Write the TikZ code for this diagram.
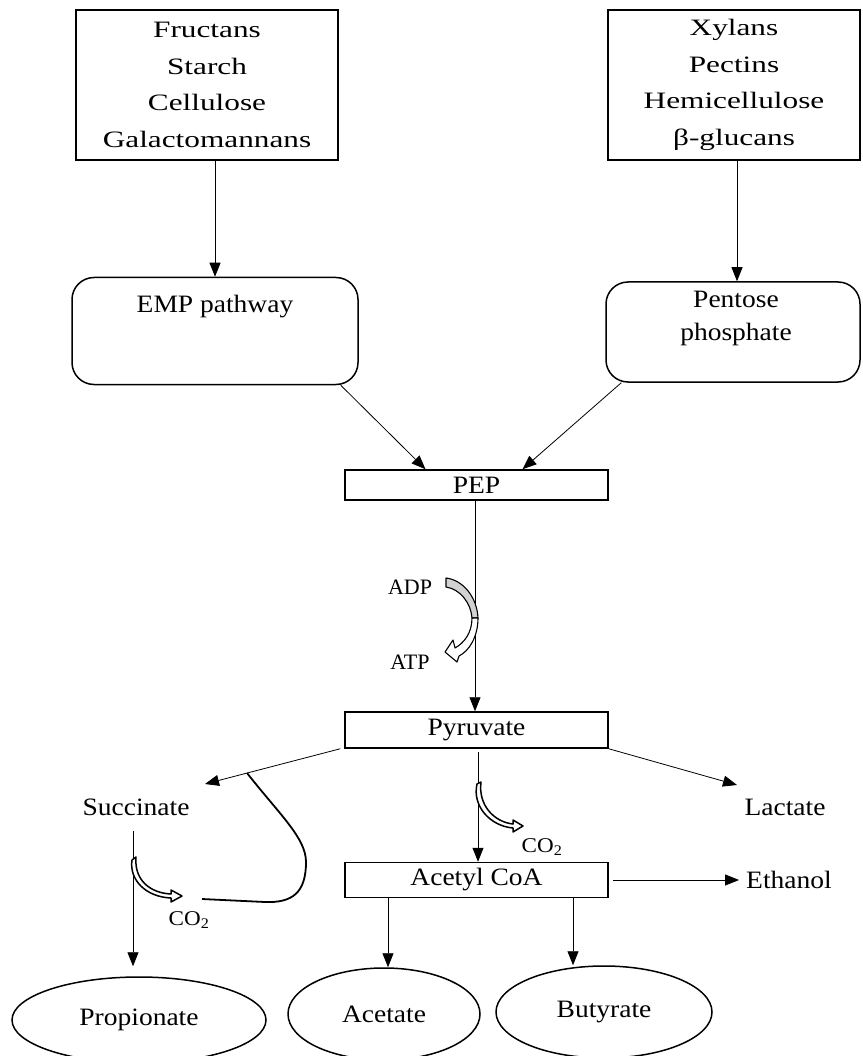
\documentclass[tikz,border=0pt]{standalone}
\usepackage{fontspec}
\setmainfont{Liberation Serif}
\newfontfamily\widef[FakeStretch=1.33]{Liberation Serif}
\newfontfamily\mainf[FakeStretch=1.10]{Liberation Serif}
\usetikzlibrary{arrows.meta,shapes.geometric}
\begin{document}
\begin{tikzpicture}[x=1pt,y=-1pt,
  every node/.style={font=\mainf\fontsize{25}{31}\selectfont},
  box/.style={draw, line width=1.5pt, inner sep=0pt},
  topbox/.style={box, align=center, font=\widef\fontsize{23.5}{36.5}\selectfont},
  rbox/.style={box, rounded corners=22pt, align=center},
  oval/.style={draw, line width=1.5pt, ellipse, inner sep=0pt},
  arr/.style={-{Triangle[length=14pt,width=11pt]}, line width=0.8pt},
  lbl/.style={inner sep=0pt, align=center},
  small/.style={inner sep=0pt, font=\mainf\fontsize{21}{25}\selectfont},
  band/.style={draw, line width=1.1pt, fill=white, line join=round},
  thinband/.style={draw, line width=1.5pt, fill=white, line join=round}
]
\useasboundingbox (0,0) rectangle (862,1056);

% boxes
\node[topbox, minimum width=262pt, minimum height=150pt] (tl) at (207,85) {Fructans\\Starch\\Cellulose\\Galactomannans};
\node[topbox, minimum width=252pt, minimum height=150pt] (tr) at (734,85) {Xylans\\Pectins\\Hemicellulose\\β-glucans};
\node[rbox, minimum width=286pt, minimum height=107pt] (emp) at (215,331) {};
\node[lbl] (emptxt) at (215,307) {EMP pathway};
\node[rbox, minimum width=254pt, minimum height=100pt] (pent) at (733,332) {};
\node[lbl, font=\mainf\fontsize{25}{33}\selectfont] (penttxt) at (736,318) {Pentose\\phosphate};
\node[box, minimum width=263pt, minimum height=30pt] (pep) at (476.5,485) {PEP};
\node[box, minimum width=263pt, minimum height=36pt] (pyr) at (476.5,730) {Pyruvate};
\node[box, minimum width=263pt, minimum height=35pt] (acet) at (476.5,880) {Acetyl CoA};

% free labels
\node[lbl] (succ) at (136,807) {Succinate};
\node[lbl] (lac) at (785,807) {Lactate};
\node[lbl] (eth) at (789,880) {Ethanol};
\node[lbl, font=\fontsize{22}{26}\selectfont] (adp) at (410,587) {ADP};
\node[lbl, font=\fontsize{22}{26}\selectfont] (atp) at (410,662) {ATP};
\node[small] (co2a) at (542,847) {CO\textsubscript{2}};
\node[small] (co2b) at (189,920) {CO\textsubscript{2}};

% ellipses
\node[oval, minimum width=254pt, minimum height=86pt] (prop) at (139,1020) {Propionate};
\node[oval, minimum width=192pt, minimum height=92pt] (aceto) at (384,1014) {Acetate};
\node[oval, minimum width=216pt, minimum height=92pt] (buty) at (604,1012) {Butyrate};

\coordinate (succtip) at (205,784);
\coordinate (lactip) at (737,785);

% connectors
\draw[arr] (emp.north |- tl.south) -- (emp.north);
\draw[arr] ([xshift=4pt]pent.north |- tr.south) -- ([xshift=4pt]pent.north);
\draw[arr] ([xshift=-18pt]emp.south east) -- ([xshift=-51pt]pep.north);
\draw[arr] ([xshift=16pt]pent.south west) -- ([xshift=46pt]pep.north);
\draw[arr] ([xshift=-1.5pt]pep.south) -- ([xshift=-1.5pt]pyr.north);
\draw[arr] ([xshift=-4pt]pyr.south west) -- (succtip);
\draw[arr] (pyr.south east) -- (lactip);
\draw[arr] ([xshift=1.5pt,yshift=-3pt]pyr.south) -- ([xshift=1.5pt]acet.north);
\draw[arr, shorten <=4pt, shorten >=7pt] (acet.east) -- (eth.west);
\draw[arr] ([xshift=-88.5pt]acet.south) -- ([xshift=-88.5pt]acet.south |- aceto.north);
\draw[arr] ([xshift=96.5pt]acet.south) -- ([xshift=96.5pt]acet.south |- buty.north);
\draw[arr, shorten <=15pt, shorten >=10pt] ([xshift=-3pt]succ.south) -- ([xshift=-3pt]succ.south |- prop.north);

% ADP -> ATP curved block arrow
\path[band, fill=gray!35] (446,578) .. controls (463,580) and (477,597) .. (478,618) -- (472,618) .. controls (471,603) and (460,589) .. (446,587) -- cycle;
\path[band] (472,618) -- (478,618) .. controls (478,637) and (469,651) .. (459,656) -- (457,662) -- (445,652) -- (453,640) -- (455,648) .. controls (464,643) and (472,633) .. (472,618) -- cycle;

% pyruvate CO2 release
\path[thinband] (477,784) .. controls (472,806) and (490,826) .. (513,828) -- (513,832) -- (523,826) -- (513,820) -- (513,824) .. controls (494,822) and (478,805) .. (481,782) -- cycle;

% succinate CO2 release
\path[thinband] (132,860) .. controls (129,880) and (146,897) .. (171,898) -- (171,902) -- (182,896) -- (171,890) -- (171,894) .. controls (150,893) and (134,880) .. (136,857) -- cycle;

% recycling curve
\draw[line width=1.8pt] (247,773) .. controls (280,815) and (306,838) .. (306,862) .. controls (306,893) and (292,903) .. (265,902) -- (202,899);
\end{tikzpicture}
\end{document}
